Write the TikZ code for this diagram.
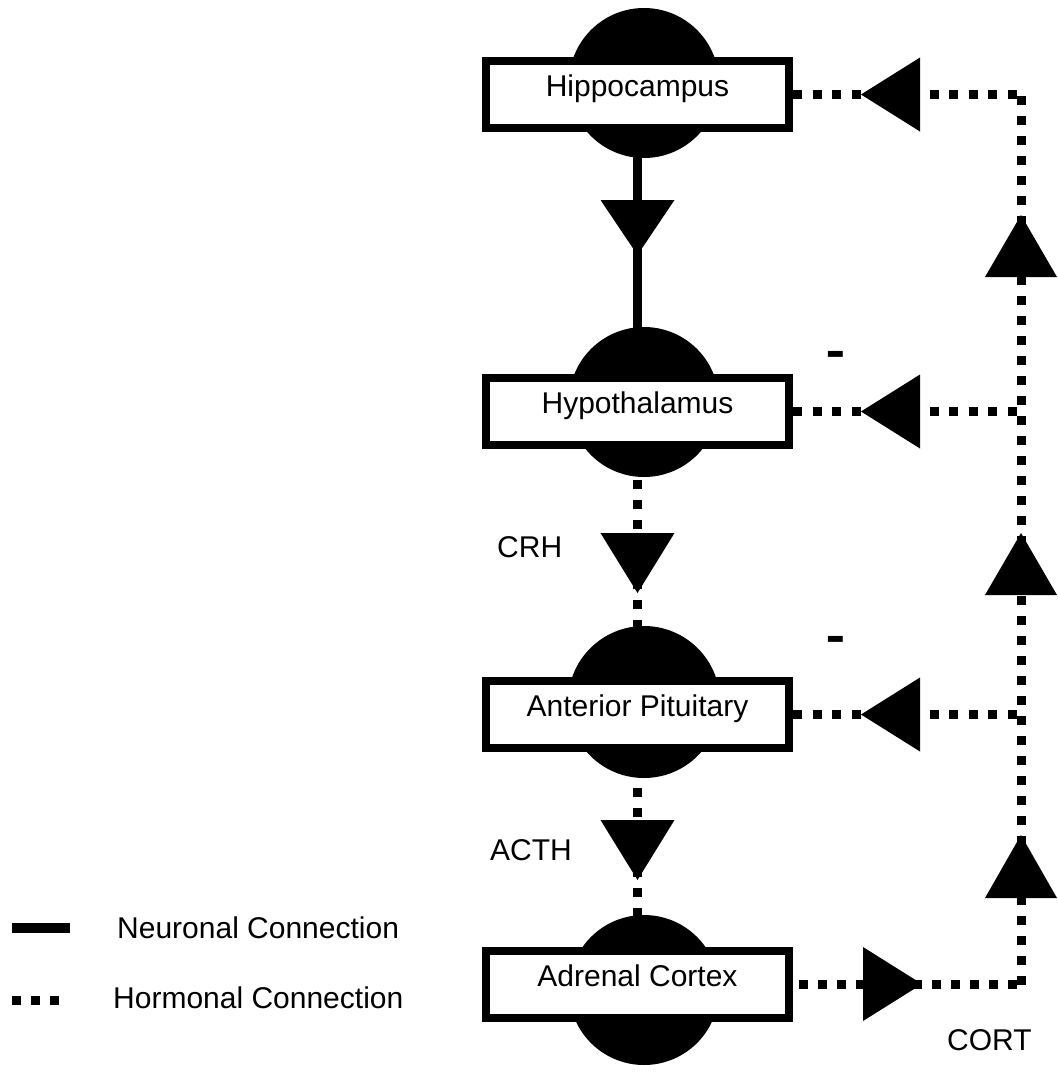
\documentclass[tikz,border=0pt]{standalone}
\usepackage{fontspec}
\setmainfont{Liberation Sans}
\begin{document}
\begin{tikzpicture}[x=1pt,y=-1pt,
  organ/.style={draw=black, line width=8pt, fill=white, minimum width=303pt,
    minimum height=67pt, inner sep=0pt, text height=12pt, text depth=8pt,
    font=\fontsize{30}{36}\selectfont},
  disc/.style={circle, fill=black, inner sep=0pt},
  neur/.style={line width=9pt},
  horm/.style={line width=9pt, dash pattern=on 9pt off 11pt},
  lbl/.style={font=\fontsize{30}{36}\selectfont, inner sep=0pt, anchor=base west},
  minus/.style={font=\fontsize{30}{36}\selectfont\bfseries, inner sep=0pt, anchor=base},
  tri/.style={fill=black},
]
\useasboundingbox (0,0) rectangle (1058,1072);

% discs behind the organ boxes
\node[disc, minimum size=150pt] (hipc) at (644,83) {};
\node[disc, minimum size=150pt] (hypc) at (644,402) {};
\node[disc, minimum size=152pt] (antc) at (644,702) {};
\node[disc, minimum size=150pt] (adrc) at (644,990) {};

% organ boxes
\node[organ] (hip) at (637.5,94.5) {Hippocampus};
\node[organ] (hyp) at (637.5,411.5) {Hypothalamus};
\node[organ] (ant) at (637.5,714.5) {Anterior Pituitary};
\node[organ] (adr) at (637.5,984.5) {Adrenal Cortex};

% junction coordinates on the feedback line
\coordinate (cortj) at (1021,984.5);
\coordinate (hipj) at (1021,94.5);
\coordinate (hypj) at (1021,411.5);
\coordinate (antj) at (1021,714.5);

% downward chain
\draw[neur] (hip.south) -- (hyp.north);
\draw[horm, dash phase=9pt] (hyp.south) -- (ant.north);
\draw[horm, dash phase=4pt] (ant.south) -- (adr.north);
\fill[tri] (637.5,255) -- (600.5,200) -- (674.5,200) -- cycle;
\fill[tri] (637.5,593) -- (600.5,533) -- (674.5,533) -- cycle;
\fill[tri] (637.5,880) -- (600.5,820) -- (674.5,820) -- cycle;

% cortisol output and feedback
\draw[horm, dash pattern=on 9pt off 10pt, dash phase=13pt] (adr.east) -- (cortj);
\draw[horm] (cortj) -- (hipj);
\draw[horm, dash pattern=on 9pt off 10.5pt] (hip.east) -- (hipj);
\draw[horm, dash pattern=on 9pt off 10.5pt] (hyp.east) -- (hypj);
\draw[horm, dash pattern=on 9pt off 10.5pt] (ant.east) -- (antj);

\fill[tri] (922,984) -- (863,947) -- (863,1021) -- cycle;
\fill[tri] (1021,215) -- (985,277) -- (1057,277) -- cycle;
\fill[tri] (1021,533) -- (985,595) -- (1057,595) -- cycle;
\fill[tri] (1021,835) -- (985,898) -- (1057,898) -- cycle;
\fill[tri] (861,94.5) -- (920,57.5) -- (920,131.5) -- cycle;
\fill[tri] (861,411.5) -- (920,374.5) -- (920,448.5) -- cycle;
\fill[tri] (861,714.5) -- (920,677.5) -- (920,751.5) -- cycle;

% labels
\node[lbl] (crh) at (497,557) {CRH};
\node[lbl] (acth) at (490,860) {ACTH};
\node[lbl] (cort) at (947,1050) {CORT};
\node[minus] (m1) at (836,370) {\scalebox{1}[2]{–}};
\node[minus] (m2) at (836,655) {\scalebox{1}[2]{–}};

% legend
\coordinate (l1a) at (12,928);
\coordinate (l1b) at (70,928);
\coordinate (l2a) at (12,1000);
\coordinate (l2b) at (60,1000);
\draw[line width=10pt] (l1a) -- (l1b);
\draw[horm, dash pattern=on 9pt off 10pt] (l2a) -- (l2b);
\node[lbl] (legn) at (117,938) {Neuronal Connection};
\node[lbl] (legh) at (113,1008) {Hormonal Connection};
\end{tikzpicture}
\end{document}
